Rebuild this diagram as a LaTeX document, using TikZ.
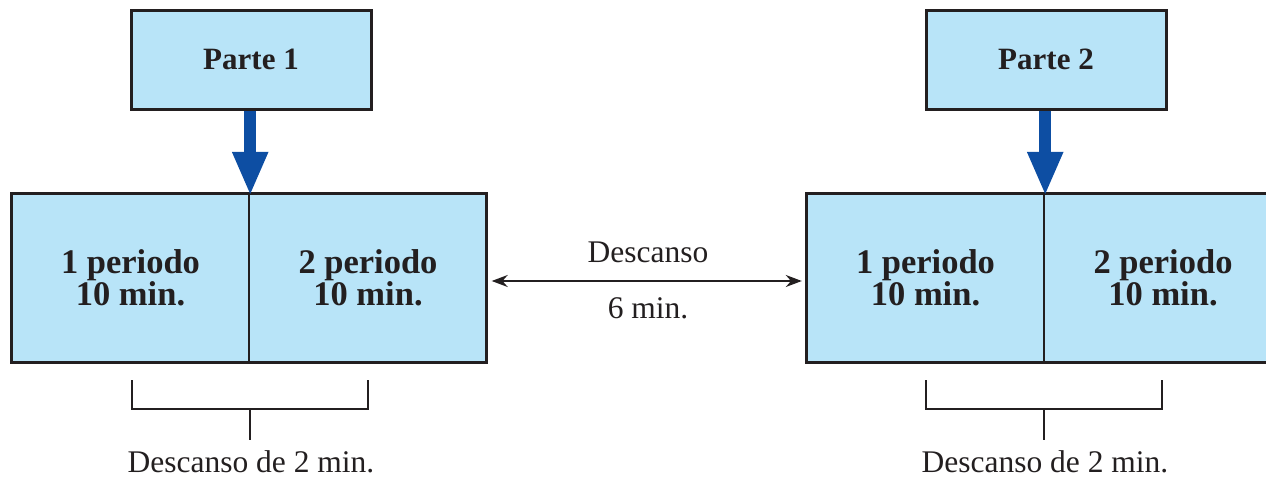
\documentclass[tikz,border=0pt]{standalone}
\usepackage{fontspec}
\setmainfont{Liberation Serif}
\usetikzlibrary{arrows.meta}
\definecolor{cellblue}{HTML}{B8E4F8}
\definecolor{arrowblue}{HTML}{0D4EA3}
\definecolor{ink}{HTML}{231F20}
\begin{document}
\begin{tikzpicture}[x=1pt,y=-1pt,
  cell/.style={fill=cellblue, inner sep=0pt, minimum width=237pt, minimum height=168pt,
     align=center, font=\fontsize{34.5}{30}\selectfont\bfseries, text=ink},
  partbox/.style={fill=cellblue, draw=ink, line width=3pt, inner sep=0pt,
     minimum width=240pt, minimum height=99pt, font=\fontsize{31}{33}\selectfont\bfseries, text=ink},
  bluearrow/.style={draw=arrowblue, line width=12pt, -{Triangle[length=44pt,width=33pt]}},
  plain/.style={font=\fontsize{31.5}{33}\selectfont, text=ink, inner sep=0pt},
  bracket/.style={draw=ink, line width=2.5pt}
]
\useasboundingbox (0,0) rectangle (1266,479);
\clip (0,0) rectangle (1266,479);

% Part 1
\node[partbox] (parte1) at (251,59.5) {Parte 1};
\node[cell] (a1) at (130.5,278) {1 periodo\\10 min.};
\node[cell] (a2) at (368,278) {2 periodo\\10 min.};
\draw[ink, line width=3pt] (a1.north west) rectangle (a2.south east);
\draw[ink, line width=2pt] (a1.north east) -- (a1.south east);
\draw[bluearrow] ([xshift=1pt]a1.north east |- parte1.south) -- ([shift={(1pt,-2pt)}]a1.north east);

% Part 2
\node[partbox] (parte2) at (1046,59.5) {Parte 2};
\node[cell] (b1) at (925.5,278) {1 periodo\\10 min.};
\node[cell] (b2) at (1163,278) {2 periodo\\10 min.};
\draw[ink, line width=3pt] (b1.north west) rectangle (b2.south east);
\draw[ink, line width=2pt] (b1.north east) -- (b1.south east);
\draw[bluearrow] ([xshift=1pt]b1.north east |- parte2.south) -- ([shift={(1pt,-2pt)}]b1.north east);

% Rest between parts
\coordinate (dl) at ([shift={(5pt,-3pt)}]a2.east);
\coordinate (dr) at ([shift={(-5pt,-3pt)}]b1.west);
\draw[ink, line width=1.8pt, {Stealth[length=16pt,width=12pt]}-{Stealth[length=16pt,width=12pt]}] (dl) -- (dr);
\node[plain, anchor=base] (desc) at (648,262) {Descanso};
\node[plain, anchor=base] (six) at (648,318) {6 min.};

% Brackets
\coordinate (l1) at (132,380); \coordinate (l2) at (368,380);
\coordinate (lm) at (250,409); \coordinate (ls) at (250,440);
\draw[bracket] (l1) |- (lm) -| (l2);
\draw[bracket] (lm) -- (ls);
\node[plain, anchor=base] (lt) at (251,472) {Descanso de 2 min.};

\coordinate (r1) at (926,380); \coordinate (r2) at (1162,380);
\coordinate (rm) at (1044,409); \coordinate (rs) at (1044,440);
\draw[bracket] (r1) |- (rm) -| (r2);
\draw[bracket] (rm) -- (rs);
\node[plain, anchor=base] (rt) at (1045,472) {Descanso de 2 min.};
\end{tikzpicture}
\end{document}
